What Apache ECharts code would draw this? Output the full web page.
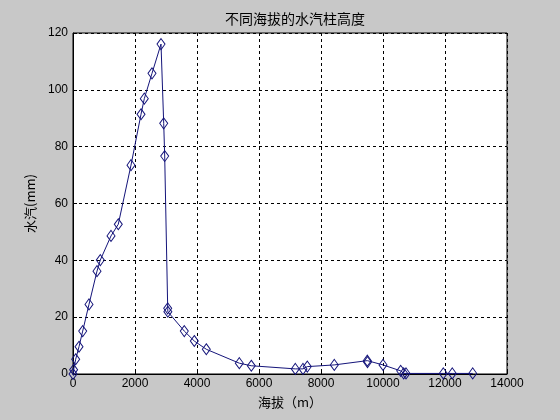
<!DOCTYPE html>
<html><head><meta charset="utf-8">
<script src="https://cdn.jsdelivr.net/npm/echarts@6/dist/echarts.min.js"></script>
<style>html,body{margin:0;padding:0;background:#c8c8c8}#c{width:560px;height:420px}</style>
</head><body><div id="c"></div>
<script>
var altitude = [0, 20, 87, 194, 313, 516, 774, 881, 1226, 1461, 1871, 2194, 2300, 2548, 2839, 2926, 2958, 3055, 3060, 3590, 3913, 4300, 5365, 5752, 7171, 7419, 7558, 8429, 9494, 9500, 10000, 10571, 10668, 10742, 11945, 12235, 12894];
var vapor    = [0, 1.5, 5.2, 9.6, 15.1, 24.5, 36.2, 40.1, 48.6, 52.7, 73.5, 91.4, 96.9, 105.8, 116.1, 88.2, 76.7, 23.1, 21.9, 15.1, 11.6, 8.7, 3.8, 2.9, 1.8, 1.8, 2.6, 3.2, 4.7, 4.2, 3.2, 1.1, 0.2, 0.2, 0.2, 0.2, 0.2];
var xTicks = [0, 2000, 4000, 6000, 8000, 10000, 12000, 14000];
var yTicks = [0, 20, 40, 60, 80, 100, 120];
var titleText = '不同海拔的水汽柱高度';
var xName = '海拔（m）';
var yName = '水汽(mm)';

var pts = altitude.map(function(a, i){ return [a, vapor[i]]; });
var chart = echarts.init(document.getElementById('c'));
var font = "'Liberation Sans', Arial, 'Noto Sans CJK SC', sans-serif";
chart.setOption({
  backgroundColor: '#c8c8c8',
  animation: false,
  title: {text: titleText, left: 290, top: 7, textAlign: 'center',
    textStyle: {fontSize: 14, fontWeight: 'normal', color: '#000', fontFamily: "'Noto Sans CJK SC', sans-serif"}},
  grid: {left: 73, right: 53, top: 33, bottom: 46, show: true, backgroundColor: '#fff', borderColor: '#000', borderWidth: 1},
  xAxis: {type: 'value', min: xTicks[0], max: xTicks[xTicks.length-1], interval: 2000,
    name: xName, nameLocation: 'middle', nameGap: 22,
    nameTextStyle: {fontSize: 13, color: '#000', fontFamily: "'Noto Sans CJK SC', sans-serif"},
    axisLine: {lineStyle: {color: '#000'}},
    axisTick: {inside: true, length: 4, lineStyle: {color: '#000'}},
    axisLabel: {color: '#000', fontSize: 12, margin: 4, fontFamily: font, formatter: function(v){ return String(v); }},
    splitLine: {show: true, lineStyle: {type: [3, 3], color: '#000', width: 1}}},
  yAxis: {type: 'value', min: yTicks[0], max: yTicks[yTicks.length-1], interval: 20,
    name: yName, nameLocation: 'middle', nameGap: 36, nameRotate: 90,
    nameTextStyle: {fontSize: 13, color: '#000', fontFamily: "'Noto Sans CJK SC', sans-serif"},
    axisLine: {show: true, lineStyle: {color: '#000'}},
    axisTick: {show: true, inside: true, length: 4, lineStyle: {color: '#000'}},
    axisLabel: {color: '#000', fontSize: 12, margin: 5, fontFamily: font, formatter: function(v){ return String(v); }},
    splitLine: {show: true, lineStyle: {type: [3, 3], color: '#000', width: 1}}},
  series: [{type: 'line', data: pts, symbol: 'diamond', symbolSize: [8, 11],
    showAllSymbol: true,
    lineStyle: {color: '#14147a', width: 1},
    itemStyle: {color: 'rgba(255,255,255,0)', borderColor: '#14147a', borderWidth: 1}}]
});
</script></body></html>
